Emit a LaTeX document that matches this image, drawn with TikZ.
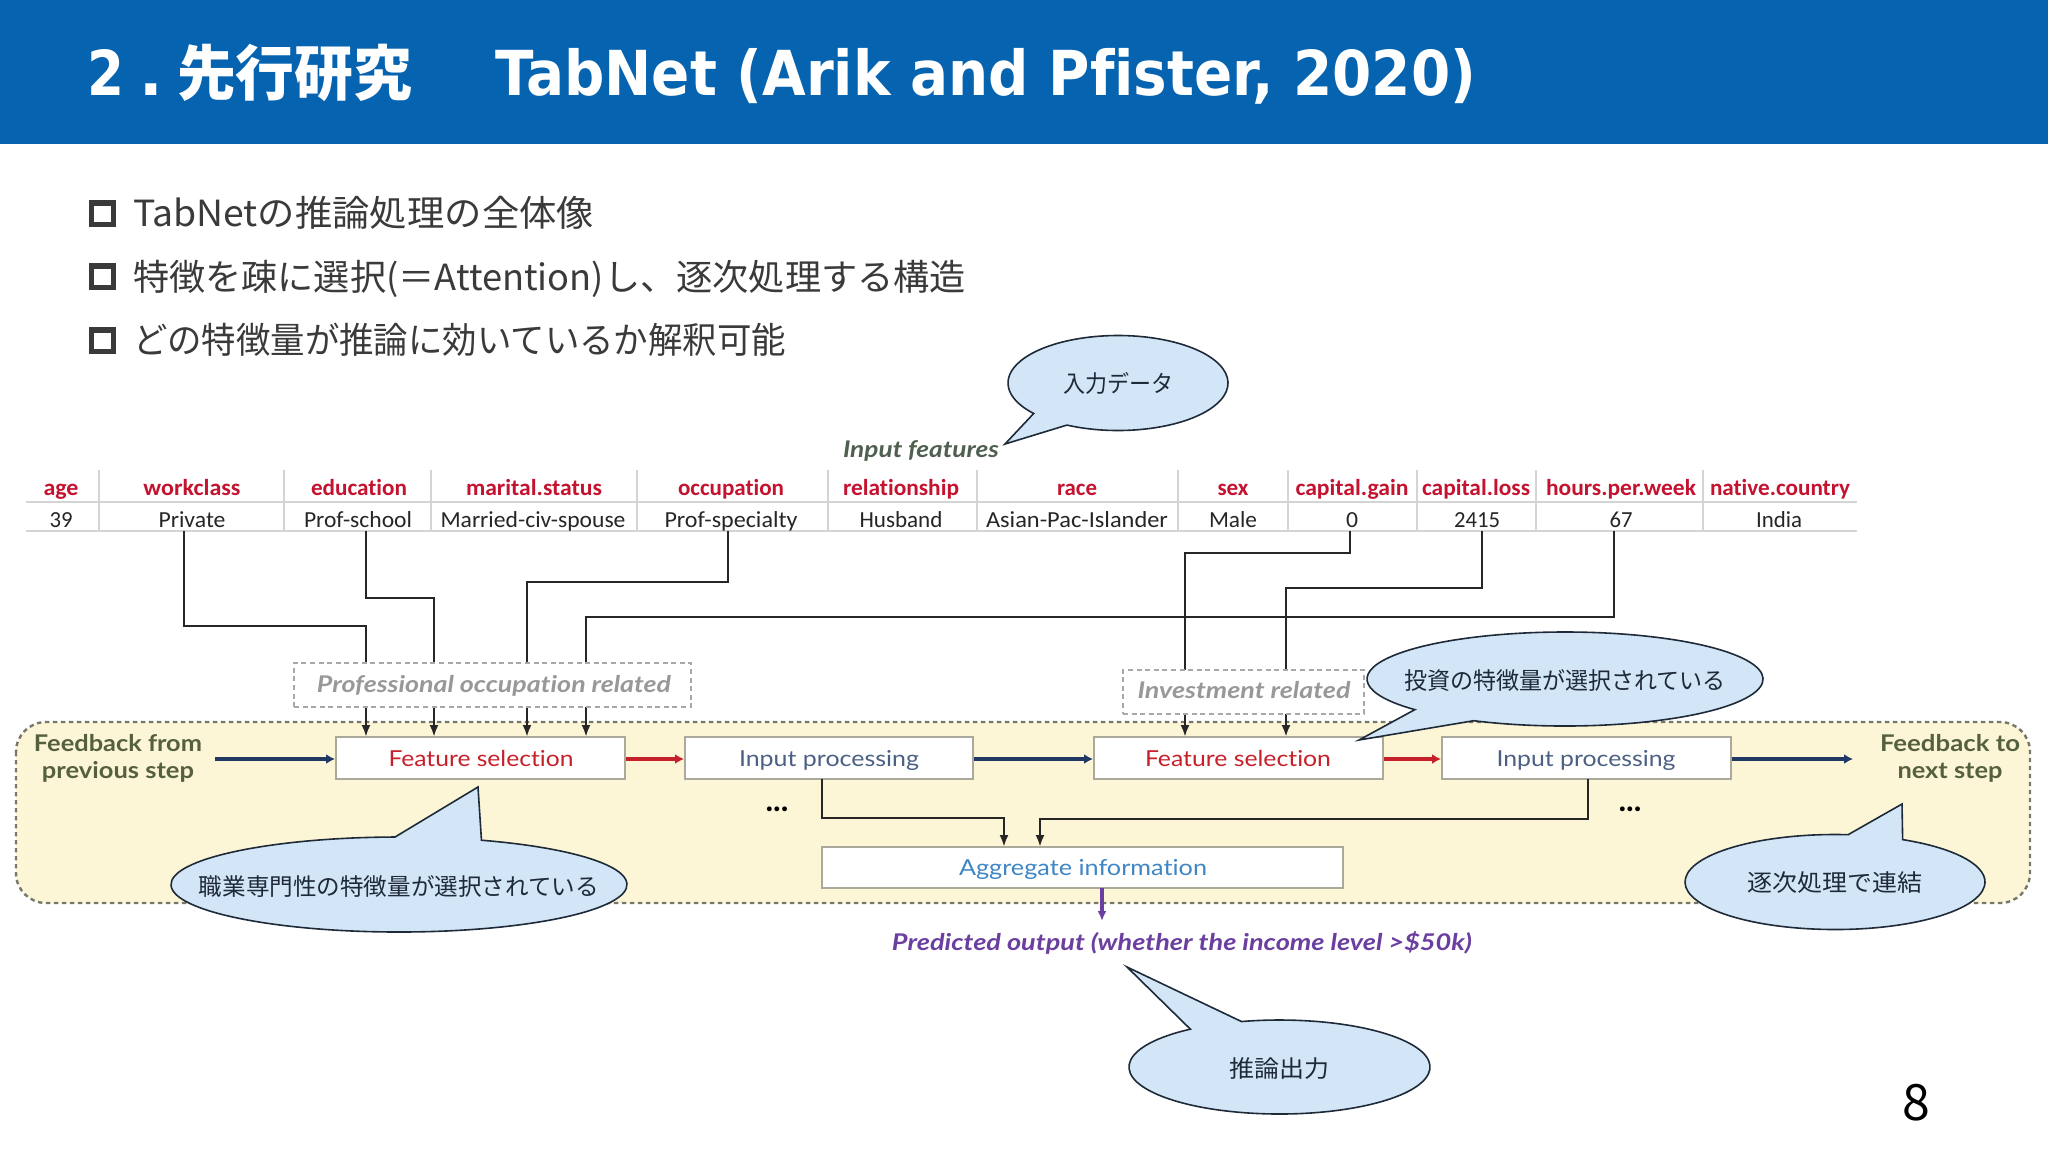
\documentclass[tikz,border=0pt]{standalone}
\usepackage{fontspec}
\usepackage{graphicx}
\usetikzlibrary{arrows.meta}
\newfontfamily\jpfont{Noto Sans CJK JP}
\newfontfamily\titlefont[Ligatures=NoCommon]{DejaVu Sans}
\newfontfamily\tabfont[Ligatures=NoCommon]{Carlito}
\newfontfamily\lblfont[Ligatures=NoCommon]{Lato}
\newlength\pxu \setlength\pxu{0.5pt}
\newcommand\fitw[2]{\resizebox{#1\pxu}{\height}{#2}}
\definecolor{hdrblue}{HTML}{0563B0}
\definecolor{bodyink}{HTML}{3A3A3A}
\definecolor{panelfill}{HTML}{FDF6D6}
\definecolor{panelline}{HTML}{77776A}
\definecolor{tabred}{HTML}{C4122F}
\definecolor{tabline}{HTML}{D4D4D4}
\definecolor{tabink}{HTML}{262626}
\definecolor{bubfill}{HTML}{D3E6F8}
\definecolor{bubink}{HTML}{1E2A38}
\definecolor{navyarrow}{HTML}{1F3864}
\definecolor{redarrow}{HTML}{C6202A}
\definecolor{purplearrow}{HTML}{6B3FA0}
\definecolor{olivetext}{HTML}{55603F}
\definecolor{greentext}{HTML}{4F5F50}
\definecolor{greytext}{HTML}{989898}
\definecolor{dashbox}{HTML}{A8A8A8}
\definecolor{boxline}{HTML}{ABA89C}
\definecolor{aggblue}{HTML}{3F86C4}
\tikzset{
  txt/.style={inner sep=0pt,outer sep=0pt,anchor=base},
  txtw/.style={inner sep=0pt,outer sep=0pt,anchor=base west},
  hdrcell/.style={txt,text=tabred,font=\tabfont\bfseries\fontsize{11.5}{13}\selectfont},
  valcell/.style={txt,text=tabink,font=\tabfont\fontsize{11.5}{13}\selectfont},
  bodyline/.style={txtw,text=bodyink,font=\jpfont\fontsize{18}{20}\selectfont},
  bulletbox/.style={draw=bodyink,line width=2.7pt,fill=white},
  tabrule/.style={draw=tabline,line width=0.9pt},
  connarrow/.style={draw=black!85,line width=1.2pt,-{Latex[length=6pt,width=4.5pt]}},
  flowbox/.style={draw=boxline,line width=1pt,fill=white,inner sep=0pt},
  dashnode/.style={draw=dashbox,line width=1pt,fill=white,dash pattern=on 2.5pt off 1.8pt,inner sep=0pt},
  lbl/.style={txt,font=\lblfont\fontsize{11}{13}\selectfont},
  feedtext/.style={txt,text=olivetext,font=\lblfont\bfseries\fontsize{11.5}{13}\selectfont},
  grouptext/.style={txt,text=greytext,font=\lblfont\bfseries\itshape\fontsize{11.5}{13}\selectfont},
  dotstext/.style={txt,text=black,font=\lblfont\bfseries\fontsize{16}{18}\selectfont},
  bubble/.style={draw=bubink,line width=0.8pt,fill=bubfill,line join=miter},
  bubtext/.style={inner sep=0pt,text=bubink,font=\jpfont\fontsize{11.8}{14}\selectfont},
  flownavy/.style={draw=navyarrow,line width=1.8pt,-{Latex[length=4.5pt,width=5pt]}},
  flowred/.style={draw=redarrow,line width=1.8pt,-{Latex[length=4.5pt,width=5pt]}},
}
\newcommand\speech[9]{%
  \pgfmathsetmacro\bubS{atan2((#2-#6)/#4,(#5-#1)/#3)}%
  \pgfmathsetmacro\bubE{atan2((#2-#8)/#4,(#7-#1)/#3)}%
  \pgfmathsetmacro\bubE{\bubE<\bubS ? \bubE+360 : \bubE}%
  \draw[bubble] ({#1+#3*cos(\bubS)},{-#2+#4*sin(\bubS)})
    arc[start angle=\bubS,end angle=\bubE,x radius={#3*0.5pt},y radius={#4*0.5pt}]
    -- (#9) -- cycle;}
\begin{document}
\begin{tikzpicture}[x=0.5pt,y=0.5pt]
\useasboundingbox (0,0) rectangle (2048,-1152);
\fill[white] (0,0) rectangle (2048,-1152);
% header
\fill[hdrblue] (0,0) rectangle (2048,-144);
\node[txtw,text=white,font=\titlefont\bfseries\fontsize{31}{34}\selectfont] (title0) at (87,-95) {\fitw{37}{2}};
\node[txtw,text=white,font=\titlefont\bfseries\fontsize{31}{34}\selectfont] (title0b) at (139,-95) {.};
\node[txtw,text=white,font=\jpfont\bfseries\fontsize{30}{34}\selectfont] (title1) at (177,-95) {\fitw{235}{先行研究}};
\node[txtw,text=white,font=\titlefont\bfseries\fontsize{31}{34}\selectfont] (title2) at (495,-95) {\fitw{981}{TabNet (Arik and Pfister, 2020)}};
% bullets
\draw[bulletbox] (91.5,-203) rectangle (113.5,-224.5);
\draw[bulletbox] (91.5,-266) rectangle (113.5,-287.5);
\draw[bulletbox] (91.5,-330) rectangle (113.5,-351.5);
\node[bodyline] (b1) at (133,-226) {\fitw{461}{TabNetの推論処理の全体像}};
\node[bodyline] (b2) at (133,-290) {\fitw{833}{特徴を疎に選択(＝Attention)し、逐次処理する構造}};
\node[bodyline] (b3) at (133,-353) {\fitw{653}{どの特徴量が推論に効いているか解釈可能}};
% panel
\draw[fill=panelfill,draw=panelline,line width=1.2pt,dash pattern=on 2.2pt off 1.8pt,rounded corners=15pt] (16,-722) rectangle (2030,-903);
% table rules
\draw[tabrule] (26,-502) -- (1857,-502);
\draw[tabrule] (26,-531) -- (1857,-531);
\foreach \xv in {99,284,431,637,828,977,1178,1288,1417,1536,1703}
  \draw[tabrule,line width=0.6pt] (\xv,-470) -- (\xv,-531);
% table text
\node[txt,text=greentext,font=\lblfont\bfseries\itshape\fontsize{11.5}{13}\selectfont] (inputf) at (921,-457) {\fitw{156}{Input features}};
\foreach \nm/\xc/\cw/\tx in {
  hage/61/35/age, hwork/192/97/workclass, hedu/359/96/education, hmar/534/136/marital.status,
  hocc/731/106/occupation, hrel/901/116/relationship, hrace/1077/40/race, hsex/1233/31/sex,
  hgain/1352/113/capital.gain, hloss/1476/108/capital.loss, hhour/1621/150/hours.per.week, hnat/1780/140/native.country}
  \node[hdrcell] (\nm) at (\xc,-495) {\fitw{\cw}{\tx}};
\foreach \nm/\xc/\cw/\tx in {
  vage/61/23/39, vwork/192/67/Private, vedu/358/108/Prof-school, vmar/533/185/Married-civ-spouse,
  vocc/731/133/Prof-specialty, vrel/901/83/Husband, vrace/1077/182/Asian-Pac-Islander, vsex/1233/48/Male,
  vgain/1352/12/0, vloss/1477/46/2415, vhour/1621/23/67, vnat/1779/46/India}
  \node[valcell] (\nm) at (\xc,-527) {\fitw{\cw}{\tx}};
% connector ends
\coordinate (swork) at (184,-531); \coordinate (mwork) at (366,-626); \coordinate (twork) at (366,-737);
\coordinate (sedu)  at (366,-531); \coordinate (medu)  at (434,-598); \coordinate (tedu)  at (434,-737);
\coordinate (socc)  at (728,-531); \coordinate (mocc)  at (527,-582); \coordinate (tocc)  at (527,-737);
\coordinate (shour) at (1614,-531);\coordinate (mhour) at (586,-617); \coordinate (thour) at (586,-737);
\coordinate (sgain) at (1350,-531);\coordinate (mgain) at (1185,-553);\coordinate (tgain) at (1185,-737);
\coordinate (sloss) at (1482,-531);\coordinate (mloss) at (1286,-588);\coordinate (tloss) at (1286,-737);
\draw[connarrow] (swork) |- (mwork) -- (twork);
\draw[connarrow] (sedu) |- (medu) -- (tedu);
\draw[connarrow] (socc) |- (mocc) -- (tocc);
\draw[connarrow] (shour) |- (mhour) -- (thour);
\draw[connarrow] (sgain) |- (mgain) -- (tgain);
\draw[connarrow] (sloss) |- (mloss) -- (tloss);
% dashed group boxes
\node[dashnode,minimum width=198.5pt,minimum height=22pt] (prof) at (492.5,-685) {};
\node[grouptext] (proft) at (494,-692) {\fitw{354}{Professional occupation related}};
\node[dashnode,minimum width=120.5pt,minimum height=22pt] (inv) at (1243.5,-692) {};
\node[grouptext] (invt) at (1244,-698) {\fitw{213}{Investment related}};
% flow boxes
\node[flowbox,minimum width=144.5pt,minimum height=21pt] (fs1) at (480.5,-758) {};
\node[flowbox,minimum width=144pt,minimum height=21pt] (ip1) at (829,-758) {};
\node[flowbox,minimum width=144.5pt,minimum height=21pt] (fs2) at (1238.5,-758) {};
\node[flowbox,minimum width=144.5pt,minimum height=21pt] (ip2) at (1586.5,-758) {};
\node[flowbox,minimum width=260.5pt,minimum height=20.5pt] (agg) at (1082.5,-867.5) {};
\node[lbl,text=redarrow] (fs1t) at (481,-766) {\fitw{185}{Feature selection}};
\node[lbl,text=navyarrow!80!white] (ip1t) at (829,-766) {\fitw{180}{Input processing}};
\node[lbl,text=redarrow] (fs2t) at (1238,-766) {\fitw{186}{Feature selection}};
\node[lbl,text=navyarrow!80!white] (ip2t) at (1586,-766) {\fitw{179}{Input processing}};
\node[lbl,text=aggblue] (aggt) at (1083,-875) {\fitw{248}{Aggregate information}};
% feedback text
\node[feedtext] (ff1) at (118,-751) {\fitw{168}{Feedback from}};
\node[feedtext] (ff2) at (118,-778) {\fitw{152}{previous step}};
\node[feedtext] (ft1) at (1950,-751) {\fitw{140}{Feedback to}};
\node[feedtext] (ft2) at (1950,-778) {\fitw{105}{next step}};
\node[dotstext] (dots1) at (777,-811) {...};
\node[dotstext] (dots2) at (1630,-811) {...};
\node[txt,text=purplearrow,font=\lblfont\bfseries\itshape\fontsize{11.5}{13}\selectfont] (pred) at (1182,-950) {\fitw{580}{Predicted output (whether the income level >\$50k)}};
% flow arrows
\coordinate (fbin) at (215,-759); \coordinate (fbout) at (1853,-759);
\draw[flownavy] (fbin) -- (fbin -| fs1.west);
\draw[flowred] (fs1.east |- fbin) -- (fbin -| ip1.west);
\draw[flownavy] (ip1.east |- fbin) -- (fbin -| fs2.west);
\draw[flowred] (fs2.east |- fbin) -- (fbin -| ip2.west);
\draw[flownavy] (ip2.east |- fbin) -- (fbout);
% aggregate connectors
\coordinate (ag1s) at (822,-779); \coordinate (ag1m) at (1004,-818); \coordinate (ag1e) at (1004,-847);
\coordinate (ag2s) at (1588,-779); \coordinate (ag2m) at (1040,-819); \coordinate (ag2e) at (1040,-847);
\draw[connarrow] (ag1s) |- (ag1m) -- (ag1e);
\draw[connarrow] (ag2s) |- (ag2m) -- (ag2e);
\coordinate (purpS) at (1102,-888); \coordinate (purpE) at (1102,-921);
\draw[draw=purplearrow,line width=1.6pt,-{Latex[length=5pt,width=4.5pt]}] (purpS) -- (purpE);
% callouts
\coordinate (tip1) at (1005,-444);
\speech{1118}{383}{110}{47.5}{1067}{425}{1035}{413}{tip1}
\node[bubtext] (c1t) at (1118,-383) {\fitw{110}{入力データ}};
\coordinate (tip2) at (1359,-740);
\speech{1565}{679}{198}{47}{1473}{721}{1413}{710}{tip2}
\node[bubtext] (c2t) at (1565,-680) {\fitw{322}{投資の特徴量が選択されている}};
\coordinate (tip3) at (478,-787);
\speech{399}{884.5}{228}{47.5}{395}{837}{480}{841}{tip3}
\node[bubtext] (c3t) at (399,-886) {\fitw{400}{職業専門性の特徴量が選択されている}};
\coordinate (tip4) at (1902,-804);
\speech{1835}{882}{150}{47.5}{1848}{835}{1902}{840}{tip4}
\node[bubtext] (c4t) at (1835,-883) {\fitw{175}{逐次処理で連結}};
\coordinate (tip5) at (1127,-967);
\speech{1279.5}{1067}{150.5}{47}{1190}{1029}{1241}{1021}{tip5}
\node[bubtext] (c5t) at (1279,-1069) {\fitw{100}{推論出力}};
% page number
\node[txt,text=black,font=\jpfont\fontsize{25}{28}\selectfont] (page) at (1916,-1120) {8};
\end{tikzpicture}
\end{document}
